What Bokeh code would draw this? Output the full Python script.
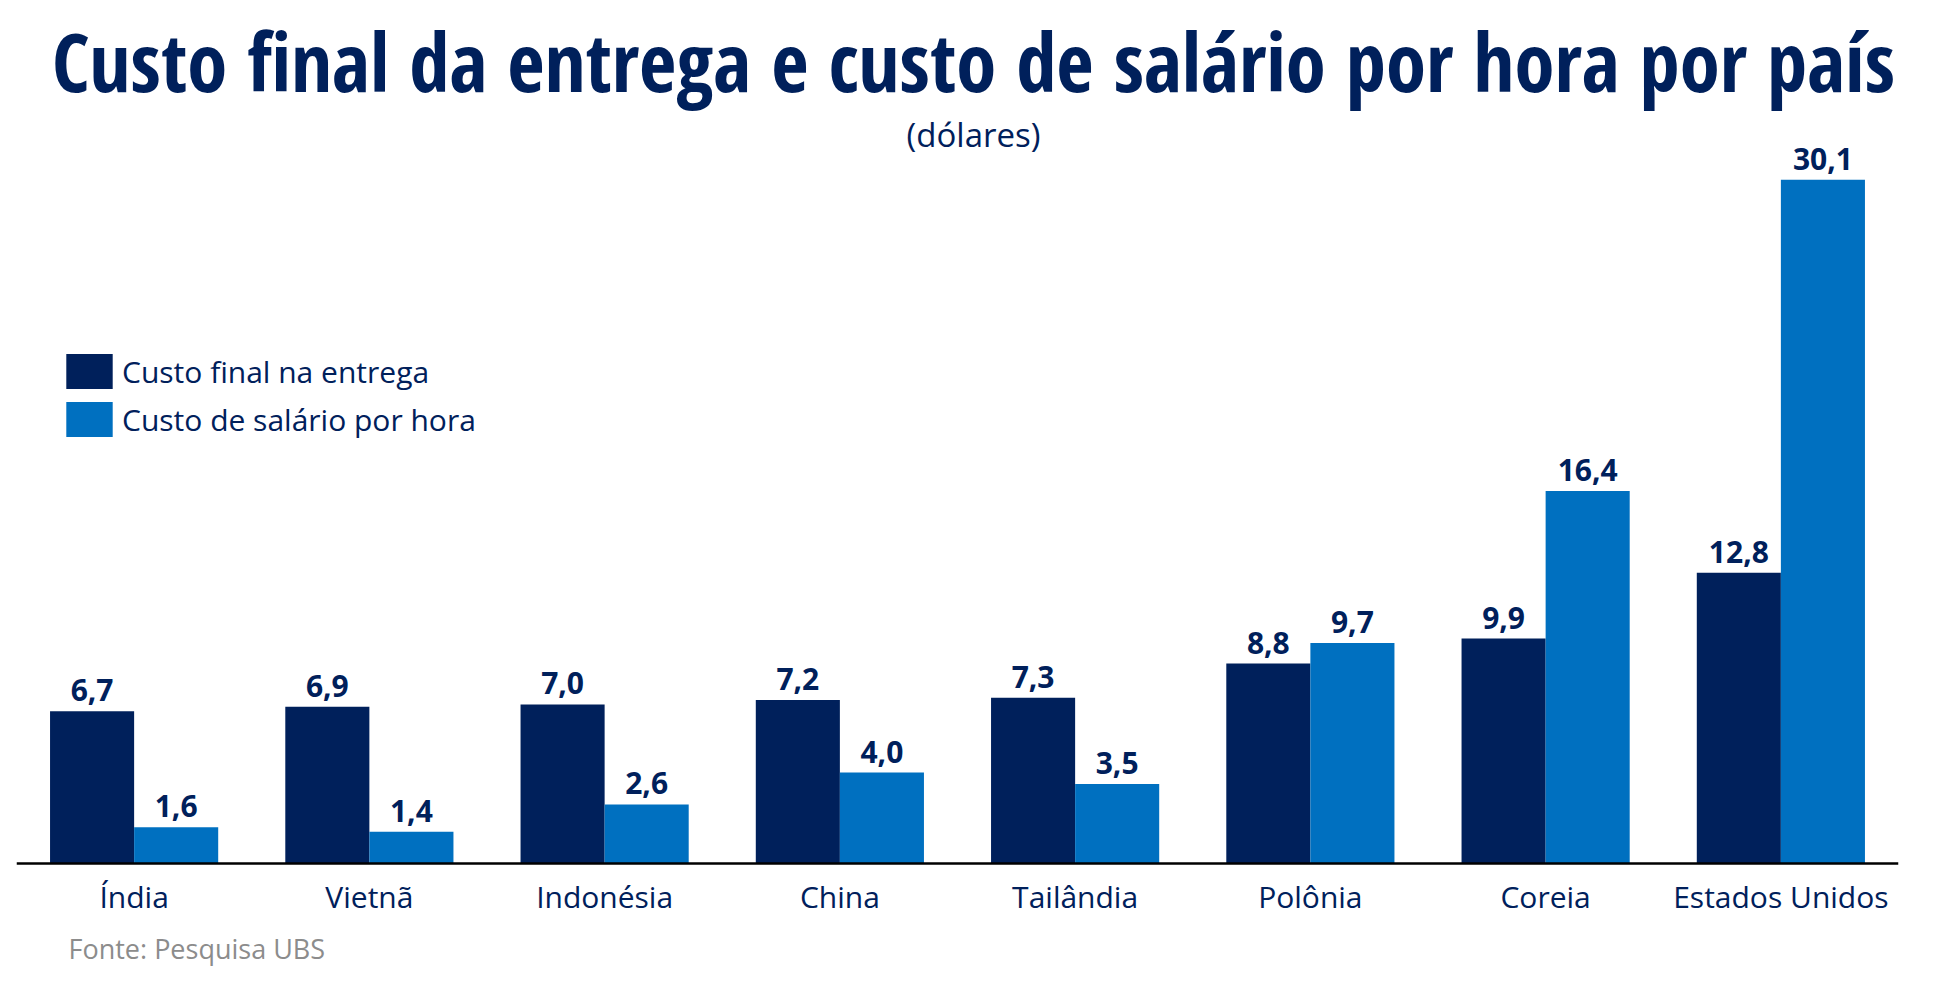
from bokeh.plotting import figure
from bokeh.models import (FactorRange, Range1d, ColumnDataSource, LabelSet, Label,
                          Legend, LegendItem, Span)
from bokeh.transform import dodge
from bokeh.core.properties import value
from bokeh.embed import file_html
from bokeh.resources import INLINE

countries = ["Índia", "Vietnã", "Indonésia", "China", "Tailândia", "Polônia", "Coreia", "Estados Unidos"]
custo_final = [6.7, 6.9, 7.0, 7.2, 7.3, 8.8, 9.9, 12.8]
custo_salario = [1.6, 1.4, 2.6, 4.0, 3.5, 9.7, 16.4, 30.1]
series_names = ["Custo final na entrega", "Custo de salário por hora"]

DARK = "#00205B"
LIGHT = "#0070C0"
TEXT = "#00205B"

def fmt(v):
    return f"{v:.1f}".replace(".", ",")

src = ColumnDataSource(data=dict(
    country=countries,
    v1=custo_final,
    v2=custo_salario,
    t1=[fmt(v) for v in custo_final],
    t2=[fmt(v) for v in custo_salario],
    zero=[0] * len(countries),
))

# layout (pixels)
W, H = 1940, 980
BASE = 863            # canvas y of the baseline
PX_PER_UNIT = 22.72   # vertical scale
y0 = -(H - BASE) / PX_PER_UNIT
y1 = BASE / PX_PER_UNIT

p = figure(width=W, height=H, output_backend="svg", toolbar_location=None,
           x_range=FactorRange(*countries, range_padding=0),
           y_range=Range1d(y0, y1),
           min_border_left=16, min_border_right=42, min_border_top=0, min_border_bottom=0)

BW = 0.3574
OFF = BW / 2
r1 = p.vbar(x=dodge("country", -OFF, range=p.x_range), top="v1", width=BW, source=src,
            fill_color=DARK, line_color=None)
r2 = p.vbar(x=dodge("country", OFF, range=p.x_range), top="v2", width=BW, source=src,
            fill_color=LIGHT, line_color=None)

for col, txt, off in (("v1", "t1", -OFF), ("v2", "t2", OFF)):
    p.add_layout(LabelSet(x=dodge("country", off, range=p.x_range), y=col, text=txt, source=src,
                          text_align="center", text_baseline="alphabetic", y_offset=10,
                          text_font=value("Open Sans"), text_font_style="bold",
                          text_font_size="30px", text_color=TEXT))

# category labels under the baseline
p.add_layout(LabelSet(x="country", y="zero", text="country", source=src,
                      text_align="center", text_baseline="middle", y_offset=-33,
                      text_font=value("Open Sans"), text_font_size="30px", text_color=TEXT))

p.add_layout(Span(location=0, dimension="width", line_color="black", line_width=2.5))

p.xaxis.visible = False
p.yaxis.visible = False
p.xgrid.grid_line_color = None
p.ygrid.grid_line_color = None
p.outline_line_color = None
p.background_fill_color = "white"
p.border_fill_color = "white"

legend = Legend(items=[LegendItem(label=series_names[0], renderers=[r1]),
                       LegendItem(label=series_names[1], renderers=[r2])],
                location=(44, 539), orientation="vertical",
                glyph_width=58, glyph_height=44, label_height=44, label_standoff=4,
                spacing=4, padding=0, margin=0, border_line_color=None,
                background_fill_alpha=0, label_text_font="Open Sans",
                label_text_font_size="30px", label_text_color=TEXT,
                label_text_baseline="middle")
p.add_layout(legend, "center")

p.add_layout(Label(x=957, y=H - 60, x_units="screen", y_units="screen",
                   text="Custo final da entrega e custo de salário por hora por país",
                   text_align="center", text_baseline="middle",
                   text_font="Open Sans Condensed", text_font_style="bold",
                   text_font_size="81px", text_color=TEXT))
p.add_layout(Label(x=957, y=H - 134, x_units="screen", y_units="screen",
                   text="(dólares)", text_align="center", text_baseline="middle",
                   text_font="Open Sans", text_font_size="33px", text_color=TEXT))
p.add_layout(Label(x=52, y=H - 948, x_units="screen", y_units="screen",
                   text="Fonte: Pesquisa UBS", text_align="left", text_baseline="middle",
                   text_font="Open Sans", text_font_size="27px", text_color="#8C8C8C"))

open("out.html", "w").write(file_html(p, INLINE))
